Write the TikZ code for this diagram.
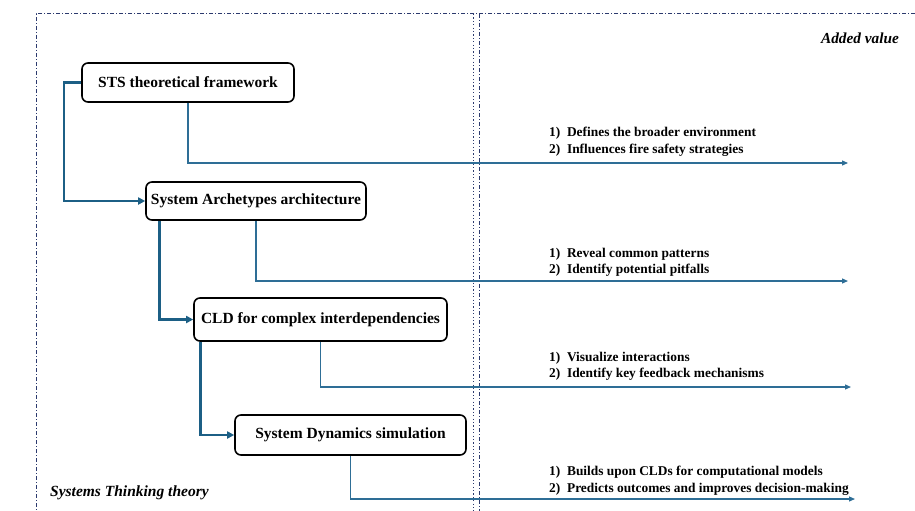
\documentclass[tikz,border=0pt]{standalone}
\usepackage{fontspec}
\setmainfont{Liberation Serif}
\usetikzlibrary{arrows.meta}
\definecolor{thick}{HTML}{1C5F85}
\definecolor{thin}{HTML}{2E6E96}
\definecolor{frame}{HTML}{2C3A6E}
\tikzset{
  stepbox/.style={draw=black, line width=1.6pt, rounded corners=6pt, fill=white, font=\bfseries\fontsize{15.5}{18}\selectfont, inner sep=0pt},
  flowthick/.style={draw=thick, line width=2.8pt, -{Triangle[length=7pt,width=7pt]}},
  flowthin/.style={draw=thin, line width=1.2pt, -{Triangle[length=6pt,width=5pt]}},
  valtext/.style={anchor=west, font=\bfseries\fontsize{13.4}{15}\selectfont, inner sep=0pt},
  framedd/.style={draw=frame, line width=1pt, dash pattern=on 4pt off 2pt on 1pt off 2pt},
  framedot/.style={draw=frame, line width=1pt, dash pattern=on 1.2pt off 2.2pt},
}
\begin{document}
\begin{tikzpicture}[x=1pt,y=-1pt]
\useasboundingbox (0,0) rectangle (915,511);
% frames
\draw[framedd] (915,14) -- (36,14) -- (36,511);
\draw[framedot] (473,14) -- (473,511);
\draw[framedd] (479,14) -- (479,511);
\node[anchor=east, font=\bfseries\itshape\fontsize{15.3}{18}\selectfont, inner sep=0pt] (av) at (899,38) {Added value};
\node[anchor=west, font=\bfseries\itshape\fontsize{15.5}{18}\selectfont, inner sep=0pt] (st) at (50,493) {Systems Thinking theory};
% boxes
\node[stepbox, minimum width=212pt, minimum height=39pt] (b1) at (188,82.5) {STS theoretical framework};
\node[stepbox, minimum width=220pt, minimum height=38pt] (b2) at (256,201) {System Archetypes architecture};
\node[stepbox, minimum width=253pt, minimum height=43pt] (b3) at (320.5,319.5) {CLD for complex interdependencies};
\node[stepbox, minimum width=231pt, minimum height=40pt] (b4) at (350.5,435) {System Dynamics simulation};
% thick connectors
\draw[flowthick] (b1.west) -| (64,201) -- (b2.west);
\draw[flowthick] (b2.south west) ++(14,0) coordinate (s2) -- (s2 |- b3.west) -- (b3.west);
\draw[flowthick] (b3.south west) ++(7,0) coordinate (s3) -- (s3 |- b4.west) -- (b4.west);
% thin connectors
\coordinate (e1) at (848,163);
\coordinate (e2) at (848,281);
\coordinate (e3) at (851,387);
\coordinate (e4) at (855,499);
\draw[flowthin] (b1.south) |- (e1);
\draw[flowthin] (b2.south) |- (e2);
\draw[flowthin] (b3.south) |- (e3);
\draw[flowthin] (b4.south) |- (e4);
% value texts
\node[valtext] (t1a) at (549,133) {1)\ \ Defines the broader environment};
\node[valtext] (t1b) at (549,150) {2)\ \ Influences fire safety strategies};
\node[valtext] (t2a) at (549,254) {1)\ \ Reveal common patterns};
\node[valtext] (t2b) at (549,270) {2)\ \ Identify potential pitfalls};
\node[valtext] (t3a) at (549,358) {1)\ \ Visualize interactions};
\node[valtext] (t3b) at (549,374) {2)\ \ Identify key feedback mechanisms};
\node[valtext] (t4a) at (549,472) {1)\ \ Builds upon CLDs for computational models};
\node[valtext] (t4b) at (549,489) {2)\ \ Predicts outcomes and improves decision-making};
\end{tikzpicture}
\end{document}
